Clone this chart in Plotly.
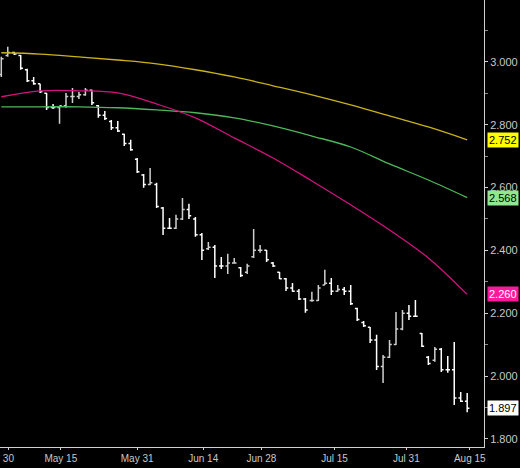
import plotly.graph_objects as go

# daily bars, oldest first
highs = [3.016, 3.048, 3.032, 3.022, 2.978, 2.952, 2.930, 2.901, 2.866, 2.860,
         2.901, 2.917, 2.904, 2.917, 2.911, 2.863, 2.844, 2.815, 2.812, 2.771,
         2.752, 2.694, 2.643, 2.662, 2.615, 2.538, 2.503, 2.513, 2.567, 2.548,
         2.506, 2.455, 2.427, 2.417, 2.379, 2.389, 2.376, 2.347, 2.357, 2.468,
         2.417, 2.401, 2.363, 2.331, 2.312, 2.296, 2.277, 2.248, 2.268, 2.290,
         2.338, 2.312, 2.290, 2.283, 2.290, 2.217, 2.175, 2.156, 2.131, 2.067,
         2.115, 2.204, 2.210, 2.226, 2.242, 2.137, 2.064, 2.092, 2.089, 2.064,
         2.108, 1.949, 1.946]
lows = [2.952, 3.016, 3.022, 2.975, 2.936, 2.927, 2.901, 2.847, 2.850, 2.803,
        2.854, 2.869, 2.882, 2.892, 2.863, 2.822, 2.815, 2.783, 2.777, 2.732,
        2.717, 2.646, 2.599, 2.608, 2.535, 2.449, 2.468, 2.468, 2.497, 2.500,
        2.443, 2.369, 2.401, 2.312, 2.341, 2.325, 2.357, 2.315, 2.325, 2.376,
        2.392, 2.363, 2.347, 2.309, 2.271, 2.268, 2.242, 2.201, 2.236, 2.239,
        2.290, 2.258, 2.268, 2.258, 2.226, 2.175, 2.156, 2.105, 2.019, 1.978,
        2.057, 2.099, 2.146, 2.178, 2.188, 2.092, 2.035, 2.045, 2.013, 2.010,
        1.908, 1.917, 1.885]
opens = [2.96, 3.02, 3.03, 3.02, 2.975, 2.94, 2.93, 2.90, 2.855, 2.855,
         2.86, 2.89, 2.89, 2.895, 2.91, 2.86, 2.83, 2.81, 2.79, 2.77,
         2.74, 2.69, 2.64, 2.61, 2.61, 2.535, 2.47, 2.47, 2.50, 2.53,
         2.50, 2.45, 2.405, 2.41, 2.35, 2.35, 2.36, 2.345, 2.33, 2.38,
         2.40, 2.40, 2.36, 2.33, 2.31, 2.28, 2.27, 2.245, 2.24, 2.24,
         2.29, 2.295, 2.27, 2.275, 2.27, 2.215, 2.17, 2.155, 2.115, 2.03,
         2.06, 2.10, 2.15, 2.20, 2.19, 2.135, 2.06, 2.05, 2.085, 2.02,
         2.02, 1.93, 1.92]
closes = [3.01, 3.03, 3.025, 2.98, 2.94, 2.93, 2.905, 2.855, 2.855, 2.86,
          2.89, 2.89, 2.895, 2.91, 2.87, 2.83, 2.82, 2.79, 2.78, 2.74,
          2.72, 2.65, 2.61, 2.615, 2.54, 2.47, 2.47, 2.50, 2.53, 2.51,
          2.45, 2.40, 2.41, 2.35, 2.35, 2.36, 2.36, 2.32, 2.35, 2.40,
          2.40, 2.37, 2.35, 2.31, 2.28, 2.27, 2.245, 2.21, 2.24, 2.28,
          2.295, 2.27, 2.275, 2.27, 2.23, 2.18, 2.16, 2.115, 2.03, 2.06,
          2.10, 2.15, 2.20, 2.19, 2.19, 2.095, 2.04, 2.085, 2.02, 2.02,
          1.93, 1.92, 1.897]
bars = list(range(len(closes)))

# moving averages, read every 6 bars
ma_idx = [0, 6, 12, 18, 24, 30, 36, 42, 48, 54, 60, 66, 72]
ma_yellow = [3.029, 3.025, 3.016, 3.006, 2.994, 2.975, 2.952, 2.924, 2.895, 2.863, 2.828, 2.793, 2.752]
ma_green = [2.857, 2.857, 2.857, 2.854, 2.847, 2.838, 2.822, 2.796, 2.764, 2.729, 2.675, 2.624, 2.568]
ma_pink = [2.889, 2.908, 2.908, 2.901, 2.866, 2.822, 2.758, 2.694, 2.621, 2.545, 2.465, 2.376, 2.260]

tick_pos = [1.1, 9.2, 21, 31.2, 40.2, 51.5, 62.6, 72.4]
tick_text = ["30", "May 15", "May 31", "Jun 14", "Jun 28", "Jul 15", "Jul 31", "Aug 15"]

fig = go.Figure()
for vals, col in [(ma_yellow, "#c9b21a"), (ma_green, "#4cb85a"), (ma_pink, "#d0147e")]:
    fig.add_trace(go.Scatter(x=ma_idx, y=vals, mode="lines", line=dict(color=col, width=1.3, shape="spline")))
fig.add_trace(go.Ohlc(x=bars, open=opens, high=highs, low=lows, close=closes, tickwidth=0.35,
                      increasing=dict(line=dict(color="#cfcfcf", width=1.5)),
                      decreasing=dict(line=dict(color="#ffffff", width=1.5))))

last = [(ma_yellow[-1], "#ffff00", "black"), (ma_green[-1], "#8fe88f", "black"),
        (ma_pink[-1], "#ff1a9c", "white"), (closes[-1], "#ffffff", "black")]
for v, bg, fg in last:
    fig.add_annotation(x=1, xref="paper", y=v, yref="y", text=f"{v:.3f}", showarrow=False,
                       xanchor="left", xshift=3, bgcolor=bg, borderpad=1,
                       font=dict(color=fg, size=11, family="Liberation Sans"))

fig.update_layout(
    width=520, height=468, margin=dict(l=0, r=36, t=0, b=21, autoexpand=False),
    paper_bgcolor="black", plot_bgcolor="black", showlegend=False,
    font=dict(family="Liberation Sans", size=11, color="#c8c8c8"),
    xaxis=dict(range=[-0.2, 74.6], tickvals=tick_pos, ticktext=tick_text, showgrid=False,
               automargin=False, tickfont=dict(size=10),
               zeroline=False, rangeslider=dict(visible=False), showline=True, linecolor="#d0d0d0",
               ticks="outside", ticklen=2, tickcolor="#d0d0d0"),
    yaxis=dict(range=[1.774, 3.197], side="right", dtick=0.2, tickformat=".3f", showgrid=False,
               automargin=False, zeroline=False, showline=True, linecolor="#d0d0d0", ticks="outside",
               ticklen=3, tickcolor="#d0d0d0",
               minor=dict(dtick=0.1, ticks="outside", ticklen=3, tickcolor="#888")),
)
# page has a default 8px body margin; drop it so the figure fills the window
fig.write_html("out.html", config={"displayModeBar": False},
               post_script="document.body.style.margin='0';document.body.style.background='black';")
